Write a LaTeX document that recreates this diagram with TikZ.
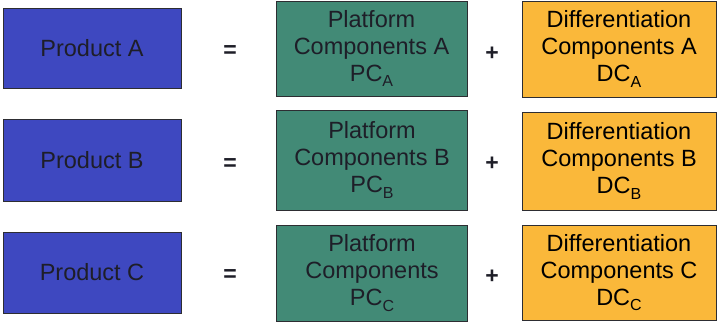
\documentclass[tikz,border=0pt]{standalone}
\usepackage{fontspec}
\setmainfont{Liberation Sans}
\definecolor{prodblue}{RGB}{62,72,192}
\definecolor{platgreen}{RGB}{66,138,118}
\definecolor{diffyellow}{RGB}{250,184,58}
\definecolor{edgedark}{RGB}{45,45,50}
\definecolor{txtdark}{RGB}{30,30,40}
% lowered subscript letter
\newcommand{\lowsub}[1]{\raisebox{-0.45ex}{\fontsize{16}{16}\selectfont #1}}
\begin{document}
\begin{tikzpicture}[x=1pt,y=-1pt,
  box/.style={draw=edgedark,line width=0.9pt,rectangle,inner sep=0pt,
    align=center,text=txtdark,font=\fontsize{23.5}{27}\selectfont},
  product/.style={box,fill=prodblue,minimum width=178pt},
  platform/.style={box,fill=platgreen,minimum width=191pt},
  diff/.style={box,fill=diffyellow,minimum width=194pt,text=black},
  op/.style={font=\bfseries\fontsize{23}{27}\selectfont,text=txtdark,inner sep=0pt}]
\useasboundingbox (0,0) rectangle (717,322);
% row A
\node[product,minimum height=80pt]  (pa) at (92,48)    {Product A};
\node[op] (eqa) at (230,52) {=};
\node[platform,minimum height=95pt] (ga) at (371.5,48.5) {Platform\\Components A\\PC\lowsub{A}};
\node[op] (pla) at (492,54) {+};
\node[diff,minimum height=96pt]     (da) at (619,49)   {Differentiation\\Components A\\DC\lowsub{A}};
% row B
\node[product,minimum height=82pt]  (pb) at (92,160)   {Product B};
\node[op] (eqb) at (230,165) {=};
\node[platform,minimum height=100pt] (gb) at (372,160) {Platform\\Components B\\PC\lowsub{B}};
\node[op] (plb) at (492,164) {+};
\node[diff,minimum height=98pt]     (db) at (619,161)  {Differentiation\\Components B\\DC\lowsub{B}};
% row C
\node[product,minimum height=81pt]  (pc) at (92,272.5) {Product C};
\node[op] (eqc) at (230,276) {=};
\node[platform,minimum height=96pt] (gc) at (372,273)  {Platform\\Components\\PC\lowsub{C}};
\node[op] (plc) at (492,277) {+};
\node[diff,minimum height=95pt]     (dc) at (619,272.5) {Differentiation\\Components C\\DC\lowsub{C}};
\end{tikzpicture}
\end{document}
